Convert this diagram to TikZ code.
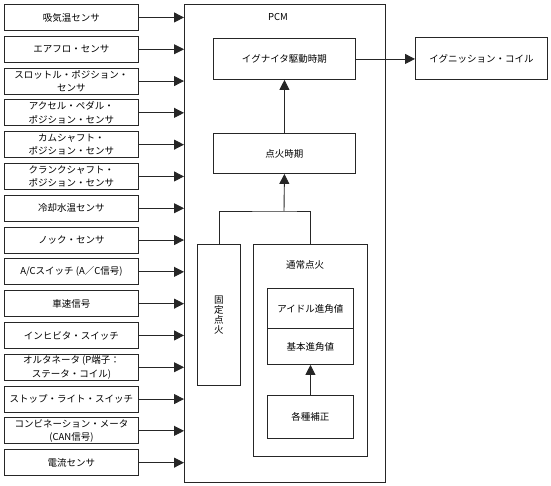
\documentclass[tikz,border=0pt]{standalone}
\usepackage{fontspec}
\setmainfont{Noto Sans CJK JP}
\usetikzlibrary{arrows.meta}
\begin{document}
\begin{tikzpicture}[x=1pt,y=-1pt,
  every node/.style={font=\fontsize{9.5}{13.5}\selectfont},
  box/.style={draw=black!85,line width=0.9pt,inner sep=0pt,anchor=north west,align=center},
  inbox/.style={box,minimum width=134pt,minimum height=26pt},
  con/.style={draw=black!85,line width=0.9pt},
  arr/.style={con,-{Triangle[length=10pt,width=10pt]}}]
\useasboundingbox (0,0) rectangle (551,485);
% PCM
\node[box,minimum width=201pt,minimum height=478pt] (pcm) at (184,4) {};
\node (pcmlbl) at (278,17) {PCM};
% inputs
\foreach \i/\t in {0/{吸気温センサ},1/{エアフロ・センサ},2/{スロットル・ポジション・\\センサ},3/{アクセル・ペダル・\\ポジション・センサ},4/{カムシャフト・\\ポジション・センサ},5/{クランクシャフト・\\ポジション・センサ},6/{冷却水温センサ},7/{ノック・センサ},8/{A/Cスイッチ (A／C信号)},9/{車速信号},10/{インヒビタ・スイッチ},11/{オルタネータ (P端子：\\ステータ・コイル)},12/{ストップ・ライト・スイッチ},13/{コンビネーション・メータ\\(CAN信号)},14/{電流センサ}}{
  \node[inbox] (in\i) at (4,{4+31.8*\i}) {\t};
  \draw[arr] (in\i.east) -- (in\i.east -| pcm.west);
}
% inside PCM
\node[box,minimum width=142pt,minimum height=41pt] (ign) at (213,38) {イグナイタ駆動時期};
\node[box,minimum width=142pt,minimum height=40pt] (tenka) at (213,133) {点火時期};
\node[box,minimum width=43pt,minimum height=141pt,font=\fontsize{9.5}{10}\selectfont] (kotei) at (197,244) {固\\定\\点\\火};
\node[box,minimum width=114pt,minimum height=212pt] (tsujo) at (253,244) {};
\node (tsujolbl) at (305,265) {通常点火};
\node[box,minimum width=86pt,minimum height=40pt] (idle) at (267,288) {アイドル進角値};
\node[box,minimum width=86pt,minimum height=36pt] (kihon) at (267,328) {基本進角値};
\node[box,minimum width=86pt,minimum height=43pt] (hosei) at (267,395) {各種補正};
\node[box,minimum width=132pt,minimum height=42pt] (coil) at (415,37) {イグニッション・コイル};
\coordinate (j) at (284,211);
% connectors
\draw[arr] (tenka.north) -- (ign.south);
\draw[con] (kotei.north) |- (j) -| (tsujo.north);
\draw[arr] (j) -- (tenka.south);
\draw[arr] (hosei.north) -- (kihon.south);
\draw[arr] (ign.east) -- (ign.east -| coil.west);
\end{tikzpicture}
\end{document}
